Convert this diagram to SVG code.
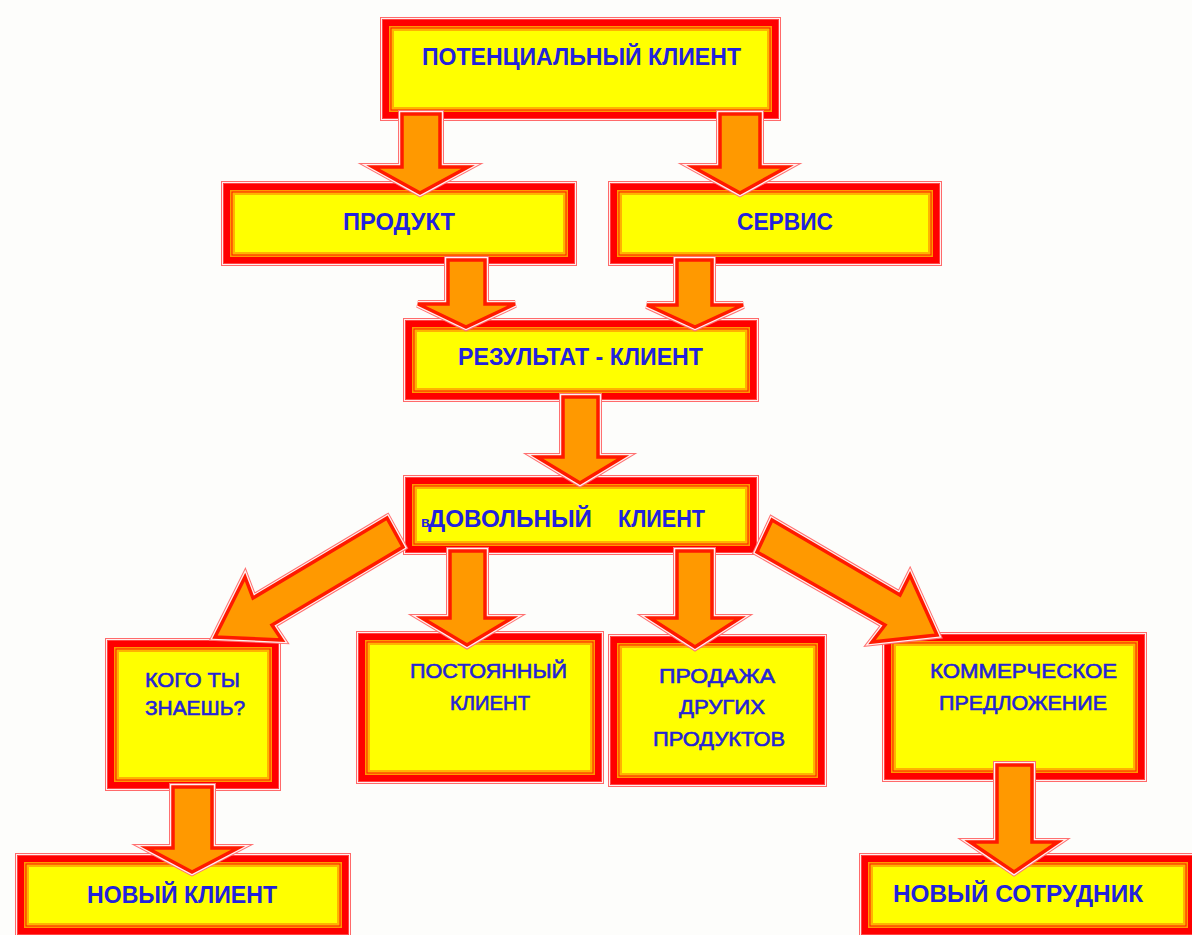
<svg xmlns="http://www.w3.org/2000/svg" xmlns:xlink="http://www.w3.org/1999/xlink" width="1192" height="935" viewBox="0 0 1192 935">
<style>
.s1{fill:none;stroke:#ff6a6a;stroke-width:28}
.s2{fill:none;stroke:#fff0f0;stroke-width:26}
.s3{fill:none;stroke:#ff4444;stroke-width:24}
.s4{fill:none;stroke:#ff0000;stroke-width:22}
.s5{fill:none;stroke:#ff9900;stroke-width:10}
.s6{fill:none;stroke:#ff1a00;stroke-width:7}
.s7{fill:none;stroke:#ffb300;stroke-width:5}
.fy{fill:#ffff00;stroke:none}
.a1{fill:none;stroke:#ff7070;stroke-width:8;stroke-linejoin:miter;stroke-miterlimit:4.5}
.a2{fill:none;stroke:#fff0f0;stroke-width:6;stroke-linejoin:miter;stroke-miterlimit:4.5}
.a3{fill:#ff9900;stroke:#ff1a00;stroke-width:3.5;stroke-linejoin:miter;stroke-miterlimit:4.5}
.tb{font-family:"Liberation Sans",Arial,sans-serif;font-weight:bold;font-size:24px;fill:#2222dd}
.tn{font-family:"Liberation Sans",Arial,sans-serif;font-weight:normal;font-size:20.5px;fill:#2424d6;stroke:#2424d6;stroke-width:0.6}
</style>
<defs>
<polygon id="p1" points="402,114 440,114 440,167 468,167 420,193 373,167 402,167"/>
<polygon id="p2" points="720,114 760,114 760,167 787,167 740,193 693,167 720,167"/>
<polygon id="p3" points="448,260 485,260 485,304 515,304 466,327 418,304 448,304"/>
<polygon id="p4" points="677,260 712,260 712,305 743,305 695,327 647,305 677,305"/>
<polygon id="p5" points="563,397 598,397 598,457 623,457 580,483 537,457 563,457"/>
<polygon id="p6" points="450,551 485,551 485,618 512,618 467,645 422,618 450,618"/>
<polygon id="p7" points="677,551 712,551 712,618 740,618 695,647 650,618 677,618"/>
<polygon id="p8" points="173,787 212,787 212,848 238,848 192,872 147,848 173,848"/>
<polygon id="p9" points="997,765 1032,765 1032,842 1058,842 1014,872 970,842 997,842"/>
<polygon id="pL" points="387,518 253,598 245,577 215,637 282,640 272,625 403,547"/>
<polygon id="pR" points="772,520 900,595 910,575 937,635 872,642 885,625 757,552"/>
</defs>
<rect x="0" y="0" width="1192" height="935" fill="#fdfdfb"/>

<g id="n-potential">
<rect class="s1" x="394" y="31" width="373" height="76"/><rect class="s2" x="394" y="31" width="373" height="76"/><rect class="s3" x="394" y="31" width="373" height="76"/><rect class="s4" x="394" y="31" width="373" height="76"/><rect class="s5" x="394" y="31" width="373" height="76"/><rect class="s6" x="394" y="31" width="373" height="76"/><rect class="s7" x="394" y="31" width="373" height="76"/><rect class="fy" x="394" y="31" width="373" height="76"/>
<text class="tb" x="422" y="65" textLength="319" lengthAdjust="spacingAndGlyphs">ПОТЕНЦИАЛЬНЫЙ КЛИЕНТ</text>
</g>

<g id="n-product">
<rect class="s1" x="235" y="195" width="328" height="57"/><rect class="s2" x="235" y="195" width="328" height="57"/><rect class="s3" x="235" y="195" width="328" height="57"/><rect class="s4" x="235" y="195" width="328" height="57"/><rect class="s5" x="235" y="195" width="328" height="57"/><rect class="s6" x="235" y="195" width="328" height="57"/><rect class="s7" x="235" y="195" width="328" height="57"/><rect class="fy" x="235" y="195" width="328" height="57"/>
<text class="tb" x="343" y="230" textLength="112" lengthAdjust="spacingAndGlyphs">ПРОДУКТ</text>
</g>

<g id="n-service">
<rect class="s1" x="622" y="195" width="306" height="57"/><rect class="s2" x="622" y="195" width="306" height="57"/><rect class="s3" x="622" y="195" width="306" height="57"/><rect class="s4" x="622" y="195" width="306" height="57"/><rect class="s5" x="622" y="195" width="306" height="57"/><rect class="s6" x="622" y="195" width="306" height="57"/><rect class="s7" x="622" y="195" width="306" height="57"/><rect class="fy" x="622" y="195" width="306" height="57"/>
<text class="tb" x="737" y="230" textLength="96" lengthAdjust="spacingAndGlyphs">СЕРВИС</text>
</g>

<g id="n-result">
<rect class="s1" x="417" y="332" width="328" height="56"/><rect class="s2" x="417" y="332" width="328" height="56"/><rect class="s3" x="417" y="332" width="328" height="56"/><rect class="s4" x="417" y="332" width="328" height="56"/><rect class="s5" x="417" y="332" width="328" height="56"/><rect class="s6" x="417" y="332" width="328" height="56"/><rect class="s7" x="417" y="332" width="328" height="56"/><rect class="fy" x="417" y="332" width="328" height="56"/>
<text class="tb" x="458" y="365" textLength="245" lengthAdjust="spacingAndGlyphs">РЕЗУЛЬТАТ - КЛИЕНТ</text>
</g>

<g id="n-satisfied">
<rect class="s1" x="417" y="489" width="328" height="52"/><rect class="s2" x="417" y="489" width="328" height="52"/><rect class="s3" x="417" y="489" width="328" height="52"/><rect class="s4" x="417" y="489" width="328" height="52"/><rect class="s5" x="417" y="489" width="328" height="52"/><rect class="s6" x="417" y="489" width="328" height="52"/><rect class="s7" x="417" y="489" width="328" height="52"/><rect class="fy" x="417" y="489" width="328" height="52"/>
<text class="tb" x="421" y="527" style="font-size:14px">в</text>
<text class="tb" x="428" y="527" textLength="164" lengthAdjust="spacingAndGlyphs">ДОВОЛЬНЫЙ</text>
<text class="tb" x="618" y="527" textLength="87" lengthAdjust="spacingAndGlyphs">КЛИЕНТ</text>
</g>

<g id="n-whoknow">
<rect class="s1" x="119" y="652" width="148" height="125"/><rect class="s2" x="119" y="652" width="148" height="125"/><rect class="s3" x="119" y="652" width="148" height="125"/><rect class="s4" x="119" y="652" width="148" height="125"/><rect class="s5" x="119" y="652" width="148" height="125"/><rect class="s6" x="119" y="652" width="148" height="125"/><rect class="s7" x="119" y="652" width="148" height="125"/><rect class="fy" x="119" y="652" width="148" height="125"/>
<text class="tn" x="145" y="687" textLength="95" lengthAdjust="spacingAndGlyphs">КОГО ТЫ</text>
<text class="tn" x="145" y="715" textLength="100" lengthAdjust="spacingAndGlyphs">ЗНАЕШЬ?</text>
</g>

<g id="n-regular">
<rect class="s1" x="370" y="645" width="220" height="125"/><rect class="s2" x="370" y="645" width="220" height="125"/><rect class="s3" x="370" y="645" width="220" height="125"/><rect class="s4" x="370" y="645" width="220" height="125"/><rect class="s5" x="370" y="645" width="220" height="125"/><rect class="s6" x="370" y="645" width="220" height="125"/><rect class="s7" x="370" y="645" width="220" height="125"/><rect class="fy" x="370" y="645" width="220" height="125"/>
<text class="tn" x="410" y="678" textLength="157" lengthAdjust="spacingAndGlyphs">ПОСТОЯННЫЙ</text>
<text class="tn" x="450" y="710" textLength="80" lengthAdjust="spacingAndGlyphs">КЛИЕНТ</text>
</g>

<g id="n-crosssell">
<rect class="s1" x="622" y="648" width="191" height="125"/><rect class="s2" x="622" y="648" width="191" height="125"/><rect class="s3" x="622" y="648" width="191" height="125"/><rect class="s4" x="622" y="648" width="191" height="125"/><rect class="s5" x="622" y="648" width="191" height="125"/><rect class="s6" x="622" y="648" width="191" height="125"/><rect class="s7" x="622" y="648" width="191" height="125"/><rect class="fy" x="622" y="648" width="191" height="125"/>
<text class="tn" x="659" y="683" textLength="116" lengthAdjust="spacingAndGlyphs">ПРОДАЖА</text>
<text class="tn" x="679" y="714" textLength="86" lengthAdjust="spacingAndGlyphs">ДРУГИХ</text>
<text class="tn" x="653" y="746" textLength="132" lengthAdjust="spacingAndGlyphs">ПРОДУКТОВ</text>
</g>

<g id="n-offer">
<rect class="s1" x="896" y="646" width="237" height="122"/><rect class="s2" x="896" y="646" width="237" height="122"/><rect class="s3" x="896" y="646" width="237" height="122"/><rect class="s4" x="896" y="646" width="237" height="122"/><rect class="s5" x="896" y="646" width="237" height="122"/><rect class="s6" x="896" y="646" width="237" height="122"/><rect class="s7" x="896" y="646" width="237" height="122"/><rect class="fy" x="896" y="646" width="237" height="122"/>
<text class="tn" x="930" y="678" textLength="187" lengthAdjust="spacingAndGlyphs">КОММЕРЧЕСКОЕ</text>
<text class="tn" x="939" y="710" textLength="168" lengthAdjust="spacingAndGlyphs">ПРЕДЛОЖЕНИЕ</text>
</g>

<g id="n-newclient">
<rect class="s1" x="29" y="867" width="308" height="56"/><rect class="s2" x="29" y="867" width="308" height="56"/><rect class="s3" x="29" y="867" width="308" height="56"/><rect class="s4" x="29" y="867" width="308" height="56"/><rect class="s5" x="29" y="867" width="308" height="56"/><rect class="s6" x="29" y="867" width="308" height="56"/><rect class="s7" x="29" y="867" width="308" height="56"/><rect class="fy" x="29" y="867" width="308" height="56"/>
<text class="tb" x="87" y="903" textLength="190" lengthAdjust="spacingAndGlyphs">НОВЫЙ КЛИЕНТ</text>
</g>

<g id="n-newemployee">
<rect class="s1" x="873" y="867" width="310" height="56"/><rect class="s2" x="873" y="867" width="310" height="56"/><rect class="s3" x="873" y="867" width="310" height="56"/><rect class="s4" x="873" y="867" width="310" height="56"/><rect class="s5" x="873" y="867" width="310" height="56"/><rect class="s6" x="873" y="867" width="310" height="56"/><rect class="s7" x="873" y="867" width="310" height="56"/><rect class="fy" x="873" y="867" width="310" height="56"/>
<text class="tb" x="893" y="902" textLength="250" lengthAdjust="spacingAndGlyphs">НОВЫЙ СОТРУДНИК</text>
</g>

<g id="connectors">
<use href="#p1" class="a1"/><use href="#p1" class="a2"/><use href="#p1" class="a3"/>
<use href="#p2" class="a1"/><use href="#p2" class="a2"/><use href="#p2" class="a3"/>
<use href="#p3" class="a1"/><use href="#p3" class="a2"/><use href="#p3" class="a3"/>
<use href="#p4" class="a1"/><use href="#p4" class="a2"/><use href="#p4" class="a3"/>
<use href="#p5" class="a1"/><use href="#p5" class="a2"/><use href="#p5" class="a3"/>
<use href="#p6" class="a1"/><use href="#p6" class="a2"/><use href="#p6" class="a3"/>
<use href="#p7" class="a1"/><use href="#p7" class="a2"/><use href="#p7" class="a3"/>
<use href="#p8" class="a1"/><use href="#p8" class="a2"/><use href="#p8" class="a3"/>
<use href="#p9" class="a1"/><use href="#p9" class="a2"/><use href="#p9" class="a3"/>
<use href="#pL" class="a1"/><use href="#pL" class="a2"/><use href="#pL" class="a3"/>
<use href="#pR" class="a1"/><use href="#pR" class="a2"/><use href="#pR" class="a3"/>
</g>
</svg>
